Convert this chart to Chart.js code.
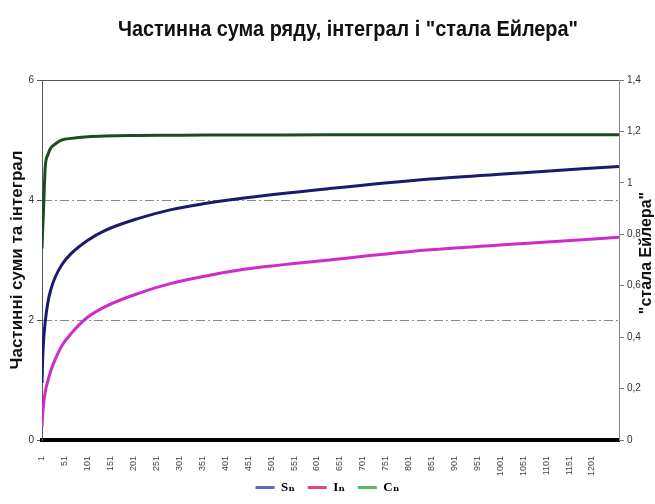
<!DOCTYPE html>
<html>
<head>
<meta charset="utf-8">
<script src="https://cdn.jsdelivr.net/npm/chart.js@4"></script>
<style>
    html, body { margin: 0; padding: 0; background: #fff; }
    #wrap { width: 655px; height: 504px; }
</style>
</head>
<body>
<div id="wrap"><canvas id="eulerChart" width="655" height="504"></canvas></div>
<script>
// Дані
const nValues = [1, 2, 4, 8, 14, 20, 29, 45, 65, 101, 138, 210, 283, 356, 429, 629, 848, 1044, 1260];
const sumValues = [0.95, 1.25, 1.6, 1.97, 2.3, 2.5, 2.7, 2.93, 3.11, 3.33, 3.49, 3.69, 3.84, 3.94, 4.02, 4.19, 4.35, 4.45, 4.56];
const intValues = [0.22, 0.38, 0.56, 0.8, 0.99, 1.15, 1.33, 1.58, 1.78, 2.05, 2.22, 2.44, 2.61, 2.73, 2.83, 3.0, 3.17, 3.27, 3.38];
const eulerValues = [0.745, 0.8, 0.88, 1.06, 1.11, 1.135, 1.15, 1.167, 1.173, 1.179, 1.182, 1.184, 1.185, 1.186, 1.186, 1.187, 1.187, 1.187, 1.187];

// Підписи осі X
const xTickValues = [1, 51, 101, 151, 201, 251, 301, 351, 401, 451, 501, 551, 601, 651, 701, 751, 801, 851, 901, 951, 1001, 1051, 1101, 1151, 1201];

const seriesNames = ['Sₙ', 'Iₙ', 'Cₙ'];
const legendColors = ['#5a69c2', '#e0467e', '#4fb86c'];

const chartTitle = 'Частинна сума ряду, інтеграл і "стала Ейлера"';
const rightAxisTitle = '"стала Ейлера"';

const toPoints = (vals) => nValues.map((n, i) => ({ x: n, y: vals[i] }));

// Заголовок (вузький шрифт) і підпис правої осі (читається знизу вгору)
const extraText = {
    id: 'extraText',
    afterDraw(chart) {
        const ctx = chart.ctx;
        ctx.save();
        ctx.fillStyle = '#111';
        ctx.textAlign = 'center';
        ctx.textBaseline = 'middle';
        ctx.font = 'bold 22px "Liberation Sans", Arial, sans-serif';
        const w = ctx.measureText(chartTitle).width;
        ctx.translate(348, 30);
        ctx.scale(460 / w, 1);
        ctx.fillText(chartTitle, 0, 0);
        ctx.restore();

        ctx.save();
        ctx.fillStyle = '#111';
        ctx.textAlign = 'center';
        ctx.textBaseline = 'middle';
        ctx.translate(647, 253);
        ctx.rotate(-Math.PI / 2);
        ctx.font = 'bold 16px "Liberation Sans", Arial, sans-serif';
        ctx.fillText(rightAxisTitle, 0, 0);
        ctx.restore();
    }
};

const lineStyle = {
    borderWidth: 3,
    pointRadius: 0,
    fill: false,
    cubicInterpolationMode: 'monotone'
};

new Chart(document.getElementById('eulerChart').getContext('2d'), {
    type: 'line',
    data: {
        datasets: [
            { ...lineStyle, label: seriesNames[0], data: toPoints(sumValues), borderColor: '#1b1b6b', yAxisID: 'y' },
            { ...lineStyle, label: seriesNames[1], data: toPoints(intValues), borderColor: '#cc2ccc', yAxisID: 'y' },
            { ...lineStyle, label: seriesNames[2], data: toPoints(eulerValues), borderColor: '#1f4a1f', yAxisID: 'y2' }
        ]
    },
    options: {
        responsive: false,
        animation: false,
        layout: { padding: 0 },
        plugins: {
            title: { display: false },
            legend: {
                position: 'bottom',
                labels: {
                    boxWidth: 19,
                    boxHeight: 3,
                    padding: 3,
                    color: '#111',
                    font: { family: '"Liberation Serif", "DejaVu Serif", serif', size: 13, weight: 'bold' },
                    // пробіли в кінці дають відстань між елементами легенди
                    generateLabels: () => seriesNames.map((name, i) => ({
                        text: i < seriesNames.length - 1 ? name + '   ' : name,
                        fillStyle: legendColors[i],
                        strokeStyle: legendColors[i],
                        lineWidth: 0,
                        hidden: false,
                        datasetIndex: i
                    }))
                }
            },
            tooltip: { enabled: false }
        },
        scales: {
            x: {
                type: 'linear',
                position: 'bottom',
                min: 1,
                max: 1260,
                afterBuildTicks: (scale) => { scale.ticks = xTickValues.map(v => ({ value: v })); },
                afterFit: (scale) => { scale.height = 38; },
                grid: { display: false },
                border: { color: '#000', width: 4 },
                ticks: {
                    autoSkip: false,
                    minRotation: 90,
                    maxRotation: 90,
                    padding: 8,
                    color: '#444',
                    font: { family: '"Liberation Sans", Arial, sans-serif', size: 9 },
                    callback: (v) => String(v)
                }
            },
            xTop: {
                type: 'linear',
                position: 'top',
                afterFit: (scale) => { scale.height = 80; },
                grid: { display: false },
                ticks: { display: false },
                border: { color: '#555', width: 1 }
            },
            y: {
                position: 'left',
                min: 0,
                max: 6,
                afterFit: (scale) => { scale.width = 42; },
                ticks: {
                    stepSize: 2,
                    padding: 3,
                    color: '#333',
                    font: { family: '"Liberation Sans", Arial, sans-serif', size: 10 }
                },
                grid: {
                    color: (c) => (c.tick && (c.tick.value === 2 || c.tick.value === 4)) ? '#8a8a8a' : 'rgba(0,0,0,0)',
                    tickColor: '#555',
                    tickLength: 5,
                    lineWidth: 1
                },
                border: { color: '#555', width: 1, dash: [9, 3, 2, 3] },
                title: {
                    display: true,
                    text: 'Частинні суми та інтеграл',
                    color: '#111',
                    font: { family: '"Liberation Sans", Arial, sans-serif', size: 17, weight: 'bold', lineHeight: 1 },
                    padding: { top: 9, bottom: 0 }
                }
            },
            y2: {
                position: 'right',
                min: 0,
                max: 1.4,
                afterFit: (scale) => { scale.width = 36; },
                ticks: {
                    stepSize: 0.2,
                    padding: 3,
                    color: '#333',
                    font: { family: '"Liberation Sans", Arial, sans-serif', size: 10 },
                    callback: (v) => String(Math.round(v * 10) / 10).replace('.', ',')
                },
                grid: {
                    drawOnChartArea: false,
                    tickColor: '#777',
                    tickLength: 5
                },
                border: { color: '#888', width: 1 }
            }
        }
    },
    plugins: [extraText]
});
</script>
</body>
</html>
